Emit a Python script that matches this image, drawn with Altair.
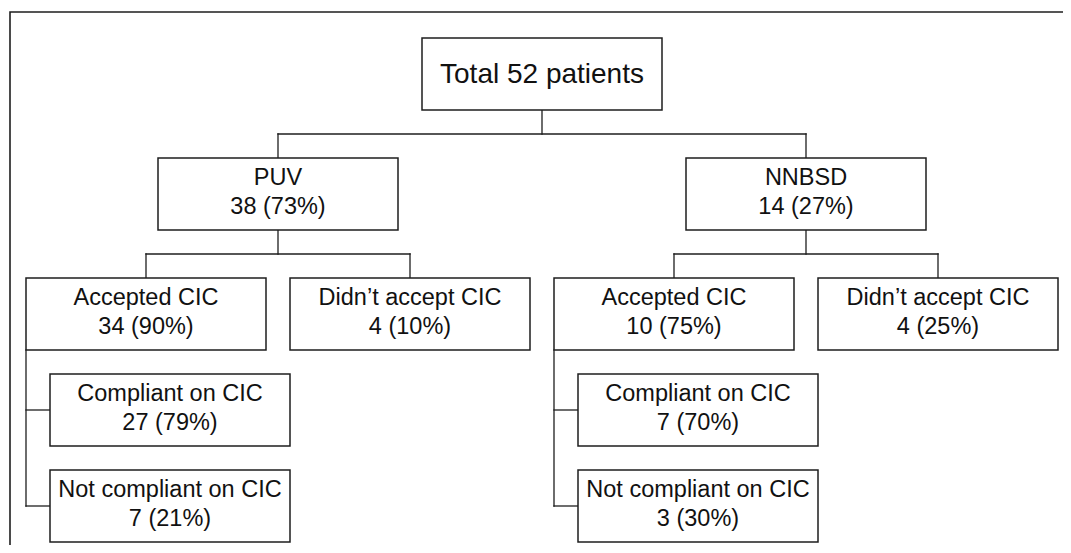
import altair as alt
import pandas as pd

# ---- data: the flow of patients ----
labels = ["Total 52 patients", "PUV", "NNBSD",
          "Accepted CIC", "Didn\u2019t accept CIC",
          "Accepted CIC", "Didn\u2019t accept CIC",
          "Compliant on CIC", "Not compliant on CIC",
          "Compliant on CIC", "Not compliant on CIC"]
counts = [52, 38, 14, 34, 4, 10, 4, 27, 7, 7, 3]
pcts = [None, 73, 27, 90, 10, 75, 25, 79, 21, 70, 30]
parents = [None, 0, 0, 1, 1, 2, 2, 3, 3, 5, 5]

# ---- layout constants (page pixels) ----
BOX_W, BOX_H, GAP = 240, 72, 24
LEFT, TOP, LEVEL_STEP = 26, 38, 120
W, H = 1055, 537
INK = "#1e1e1e"

n = len(labels)
children = {i: [] for i in range(n)}
for i, p in enumerate(parents):
    if p is not None:
        children[p].append(i)

depth = [0] * n
for i in range(n):
    d, p = 0, parents[i]
    while p is not None:
        d += 1
        p = parents[p]
    depth[i] = d

cx = [0.0] * n
top = [0.0] * n
left = [0.0] * n
# horizontal tree for depth <= 2
leaf_level = [i for i in range(n) if depth[i] == 2]
for col, i in enumerate(leaf_level):
    cx[i] = LEFT + BOX_W / 2 + col * (BOX_W + GAP)
for d in (1, 0):
    for i in range(n):
        if depth[i] == d:
            kids = [c for c in children[i] if depth[c] == d + 1]
            cx[i] = sum(cx[c] for c in kids) / len(kids)
for i in range(n):
    if depth[i] <= 2:
        top[i] = TOP + depth[i] * LEVEL_STEP
        left[i] = cx[i] - BOX_W / 2
# stacked children for depth 3
for i in range(n):
    if depth[i] == 2:
        for k, c in enumerate(children[i]):
            left[c] = left[i] + GAP
            cx[c] = left[c] + BOX_W / 2
            top[c] = top[i] + BOX_H + GAP + k * (BOX_H + GAP)

boxes = pd.DataFrame({
    "x": left, "x2": [l + BOX_W for l in left],
    "y": top, "y2": [t + BOX_H for t in top],
})

# text rows
trows = []
for i in range(n):
    if pcts[i] is None:
        trows.append({"x": cx[i], "y": top[i] + 45, "t": labels[i], "fs": 28})
    else:
        trows.append({"x": cx[i], "y": top[i] + 27, "t": labels[i], "fs": 23.5})
        trows.append({"x": cx[i], "y": top[i] + 56,
                      "t": f"{counts[i]} ({pcts[i]}%)", "fs": 23.5})
texts = pd.DataFrame(trows)

# connectors
segs = []
for i in range(n):
    kids = children[i]
    if not kids:
        continue
    bottom = top[i] + BOX_H
    if depth[i] < 2:
        midy = bottom + GAP
        segs.append((cx[i], bottom, cx[i], midy))
        xs = [cx[c] for c in kids]
        segs.append((min(xs), midy, max(xs), midy))
        for c in kids:
            segs.append((cx[c], midy, cx[c], top[c]))
    else:
        last_mid = top[kids[-1]] + BOX_H / 2
        segs.append((left[i], bottom, left[i], last_mid))
        for c in kids:
            my = top[c] + BOX_H / 2
            segs.append((left[i], my, left[c], my))
lines = pd.DataFrame(segs, columns=["x", "y", "x2", "y2"])

frame = pd.DataFrame({"x": [10], "y": [12], "x2": [3000], "y2": [3000]})

xs = alt.Scale(domain=[8, 8 + W], nice=False, zero=False)
ys = alt.Scale(domain=[8, 8 + H], nice=False, zero=False, reverse=True)

frame_layer = alt.Chart(frame).mark_rect(
    fill=None, stroke=INK, strokeWidth=1.6, clip=True
).encode(
    x=alt.X("x:Q", scale=xs, axis=None), x2="x2:Q",
    y=alt.Y("y:Q", scale=ys, axis=None), y2="y2:Q",
)

line_layer = alt.Chart(lines).mark_rule(
    color=INK, strokeWidth=1.3, strokeCap="square"
).encode(
    x=alt.X("x:Q", scale=xs, axis=None), x2="x2:Q",
    y=alt.Y("y:Q", scale=ys, axis=None), y2="y2:Q",
)

box_layer = alt.Chart(boxes).mark_rect(
    fill="white", stroke=INK, strokeWidth=1.5
).encode(
    x=alt.X("x:Q", scale=xs, axis=None), x2="x2:Q",
    y=alt.Y("y:Q", scale=ys, axis=None), y2="y2:Q",
)

text_layer = alt.Chart(texts).mark_text(
    font="Liberation Sans", color="#111111", align="center", baseline="alphabetic"
).encode(
    x=alt.X("x:Q", scale=xs, axis=None),
    y=alt.Y("y:Q", scale=ys, axis=None),
    text="t:N",
    size=alt.Size("fs:Q", scale=None, legend=None),
)

chart = alt.layer(frame_layer, line_layer, box_layer, text_layer).properties(
    width=W, height=H, padding=0, autosize=alt.AutoSizeParams(type="none"),
    background="white",
).configure_view(stroke=None)

chart.save("out.html", embed_options={"renderer": "svg", "actions": False})
